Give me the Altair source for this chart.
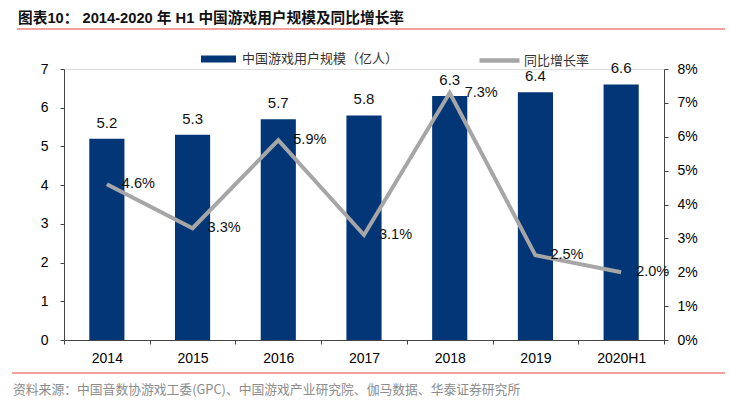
import altair as alt
import pandas as pd

years = ["2014", "2015", "2016", "2017", "2018", "2019", "2020H1"]
users = [5.2, 5.3, 5.7, 5.8, 6.3, 6.4, 6.6]
growth = [4.6, 3.3, 5.9, 3.1, 7.3, 2.5, 2.0]

title_text = "图表10：  2014-2020 年 H1 中国游戏用户规模及同比增长率"
source_text = "资料来源：中国音数协游戏工委(GPC)、中国游戏产业研究院、伽马数据、华泰证券研究所"
bar_name = "中国游戏用户规模（亿人）"
line_name = "同比增长率"

BLUE = "#033677"
GRAY = "#A6A6A6"
RED = "#E8453C"
NUM_FONT = "Liberation Sans"
CJK_FONT = "Noto Sans CJK SC"
MIX_FONT = "Liberation Sans, Noto Sans CJK SC"

df = pd.DataFrame({"year": years, "users": users, "growth": growth})
df["bar_s"] = bar_name
df["line_s"] = line_name
df["glabel"] = [f"{g:.1f}%" for g in growth]

xaxis = alt.Axis(labelAngle=0, tickBand="extent", tickSize=4,
                 labelPadding=7, labelFontSize=14, labelFont=NUM_FONT,
                 labelColor="#000", domainColor="#444", tickColor="#444")
xenc = alt.X("year:N", sort=years, title=None,
             scale=alt.Scale(paddingInner=0, paddingOuter=0), axis=xaxis)

lax = alt.Axis(values=[0, 1, 2, 3, 4, 5, 6, 7], tickCount=8, grid=False, tickSize=4,
               labelPadding=12, labelFontSize=14, labelFont=NUM_FONT, labelOverlap=False,
               labelColor="#000", domainColor="#444", tickColor="#444")
yL = alt.Y("users:Q", title=None, scale=alt.Scale(domain=[0, 7]), axis=lax)

bars = alt.Chart(df).mark_bar(width={"band": 0.41}).encode(
    x=xenc,
    y=yL,
    fill=alt.Fill("bar_s:N", scale=alt.Scale(domain=[bar_name], range=[BLUE]),
                  legend=alt.Legend(title=None, orient="none", legendX=137, legendY=-27.5,
                                    symbolType="M-1,-0.2H1V0.2H-1Z", symbolSize=1225,
                                    symbolStrokeWidth=0, labelOffset=6, labelFont=CJK_FONT,
                                    labelFontSize=13, labelLimit=400, labelColor="#333")),
)
bar_text = alt.Chart(df).mark_text(dy=-16, baseline="middle", fontSize=15, font=NUM_FONT,
                                   color="#111").encode(
    x=xenc, y=yL, text=alt.Text("users:Q", format=".1f"))

left = alt.layer(bars, bar_text)

rax = alt.Axis(orient="right", values=[0, 1, 2, 3, 4, 5, 6, 7, 8], tickCount=9, grid=False,
               tickSize=4, labelPadding=9, labelFontSize=14, labelFont=NUM_FONT,
               labelOverlap=False, labelColor="#000", domainColor="#444", tickColor="#444",
               labelExpr="datum.value + '%'")
yR = alt.Y("growth:Q", title=None, scale=alt.Scale(domain=[0, 8]), axis=rax)

line = alt.Chart(df).mark_line(strokeWidth=4).encode(
    x=xenc,
    y=yR,
    stroke=alt.Stroke("line_s:N", scale=alt.Scale(domain=[line_name], range=[GRAY]),
                      legend=alt.Legend(title=None, orient="none", legendX=413, legendY=-31,
                                        symbolType="M-1,0H1", symbolSize=1600,
                                        symbolStrokeWidth=4.5, labelOffset=2,
                                        labelFont=CJK_FONT, labelFontSize=13,
                                        labelLimit=400, labelColor="#333")),
)
line_text = alt.Chart(df).mark_text(dx=15, align="left", baseline="middle", fontSize=14.5,
                                    font=NUM_FONT, color="#111").encode(
    x=xenc, y=yR, text="glabel:N")

right = alt.layer(line, line_text)

deco = pd.DataFrame({"t": [title_text], "s": [source_text]})
title_mark = alt.Chart(deco).mark_text(align="left", baseline="middle", fontSize=14.7,
                                       fontWeight="bold", font=MIX_FONT, color="#111").encode(
    x=alt.value(-46), y=alt.value(-50), text="t:N")
source_mark = alt.Chart(deco).mark_text(align="left", baseline="middle", fontSize=12.8,
                                        font=CJK_FONT, color="#8c8c8c").encode(
    x=alt.value(-51), y=alt.value(321), text="s:N")
top_rule = alt.Chart(deco).mark_rule(color=RED, strokeWidth=1.2).encode(
    x=alt.value(-47), x2=alt.value(669), y=alt.value(-40))
bot_rule = alt.Chart(deco).mark_rule(color=RED, strokeWidth=1.2).encode(
    x=alt.value(-52), x2=alt.value(669), y=alt.value(304))

chart = alt.layer(left, right, title_mark, source_mark, top_rule, bot_rule).resolve_scale(
    y="independent", fill="independent", stroke="independent"
).properties(
    width=600, height=271,
    autosize=alt.AutoSizeParams(type="none"),
    padding={"left": 56, "top": 61, "right": 61, "bottom": 61},
).configure_view(stroke=None).configure(background="white")

chart.save("out.html", embed_options={"renderer": "svg", "actions": False})
